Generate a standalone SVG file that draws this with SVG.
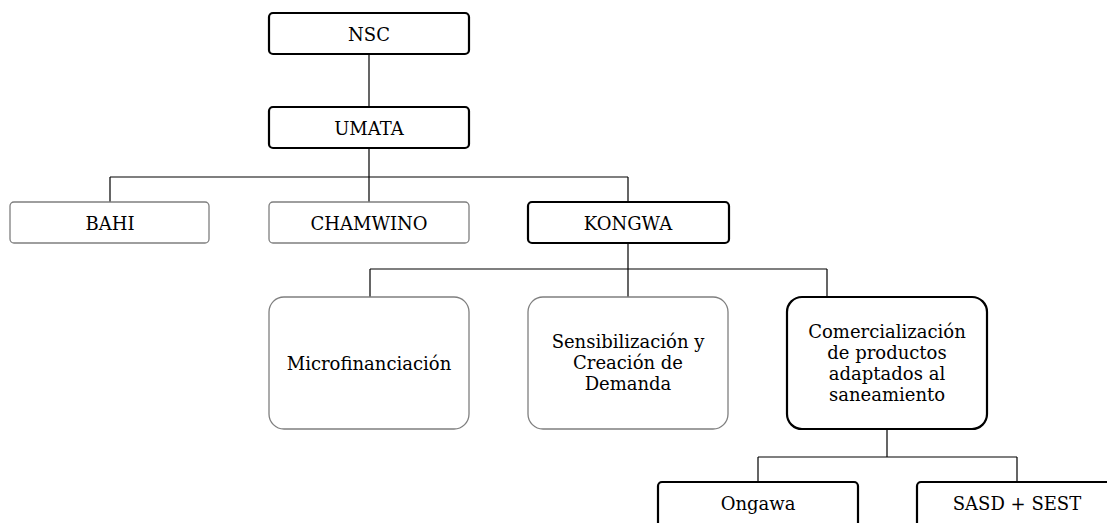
<svg xmlns="http://www.w3.org/2000/svg" width="1107" height="523" viewBox="0 0 1107 523">
<style>
.b{fill:#fff;stroke:#000;stroke-width:2.2}
.g{fill:#fff;stroke:#7f7f7f;stroke-width:1.3}
.c{fill:none;stroke:#000;stroke-width:1.2}
text{font-family:"DejaVu Serif","Liberation Serif",serif;font-size:18px;fill:#000;text-anchor:middle}
</style>
<rect width="1107" height="523" fill="#fff"/>
<g id="connectors">
<path class="c" d="M369 54V107M369 148V177M110 177H628M110 177V202M369 177V202M628 177V202M628 243V269M370 269H827M370 269V297M628 269V297M827 269V297M887 429V457M758 457H1017M758 457V482M1017 457V482"/>
</g>
<g id="nsc"><rect class="b" x="269" y="13" width="200" height="41" rx="4"/><text x="369" y="41">NSC</text></g>
<g id="umata"><rect class="b" x="269" y="107" width="200" height="41" rx="4"/><text x="369" y="135">UMATA</text></g>
<g id="bahi"><rect class="g" x="10" y="202" width="199" height="41" rx="4"/><text x="110" y="230">BAHI</text></g>
<g id="chamwino"><rect class="g" x="269" y="202" width="200" height="41" rx="4"/><text x="369" y="230">CHAMWINO</text></g>
<g id="kongwa"><rect class="b" x="528" y="202" width="201" height="41" rx="4"/><text x="628" y="230">KONGWA</text></g>
<g id="micro"><rect class="g" x="269" y="297" width="200" height="132" rx="15"/><text x="369" y="370">Microfinanciación</text></g>
<g id="sensi"><rect class="g" x="528" y="297" width="200" height="132" rx="15"/><text x="628" y="348">Sensibilización y</text><text x="628" y="369">Creación de</text><text x="628" y="390">Demanda</text></g>
<g id="comer"><rect class="b" x="787" y="297" width="200" height="132" rx="15"/><text x="887" y="338">Comercialización</text><text x="887" y="359">de productos</text><text x="887" y="380">adaptados al</text><text x="887" y="401">saneamiento</text></g>
<g id="ongawa"><rect class="b" x="658" y="482" width="200" height="60" rx="4"/><text x="758" y="510">Ongawa</text></g>
<g id="sasd"><rect class="b" x="917" y="482" width="200" height="60" rx="4"/><text x="1017" y="510">SASD + SEST</text></g>
</svg>
